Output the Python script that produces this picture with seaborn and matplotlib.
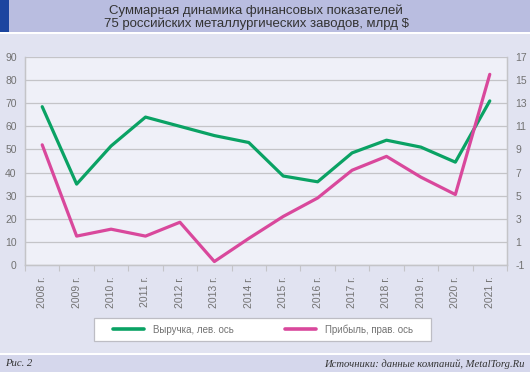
import matplotlib
matplotlib.use("Agg")
import matplotlib.pyplot as plt
import seaborn as sns
import pandas as pd
from matplotlib.patches import Rectangle
from matplotlib.lines import Line2D

years = ["2008 г.", "2009 г.", "2010 г.", "2011 г.", "2012 г.", "2013 г.", "2014 г.",
         "2015 г.", "2016 г.", "2017 г.", "2018 г.", "2019 г.", "2020 г.", "2021 г."]
revenue = [68.5, 35.0, 51.5, 64.0, 60.0, 56.0, 53.0, 38.5, 36.0, 48.5, 54.0, 51.0, 44.5, 71.0]
profit = [9.4, 1.5, 2.1, 1.5, 2.7, -0.7, 1.3, 3.2, 4.8, 7.2, 8.4, 6.6, 5.1, 15.5]
left_ticks = [0, 10, 20, 30, 40, 50, 60, 70, 80, 90]
right_ticks = [-1, 1, 3, 5, 7, 9, 11, 13, 15, 17]

title = "Суммарная динамика финансовых показателей\n75 российских металлургических заводов, млрд $"
leg_rev = "Выручка, лев. ось"
leg_prof = "Прибыль, прав. ось"
fig_label = "Рис. 2"
source = "Источники: данные компаний, MetalTorg.Ru"

GREEN = "#0aa264"
PINK = "#d9489c"
TXT = "#727272"
GRID = "#c4c4c8"

sns.set_theme(style="white")
plt.rcParams['font.family'] = ['Liberation Sans', 'DejaVu Sans']

W, H = 530, 372
fig = plt.figure(figsize=(W / 100, H / 100), dpi=100)
fig.patch.set_facecolor("white")

def rect(x0, y0, x1, y1, color, edge="none", z=-10):
    fig.patches.append(Rectangle((x0 / W, 1 - y1 / H), (x1 - x0) / W, (y1 - y0) / H,
                                 transform=fig.transFigure, facecolor=color,
                                 edgecolor=edge, linewidth=0.9, zorder=z))

rect(0, 0, W, 32, "#b9bde0")
rect(0, 0, 9, 32, "#1c45a0")
rect(0, 34, W, 353, "#e1e3f1")
rect(0, 355, W, H, "#d5d7ec")
rect(94, 318, 431, 341, "white", edge="#bdbdc4", z=-5)

fig.text(256 / W, 1 - 17 / H, title, ha="center", va="center", fontsize=9.5,
         color="#333333", linespacing=1.05)
fig.text(5 / W, 1 - 364 / H, fig_label, ha="left", va="center", fontsize=7.7,
         family=['Liberation Serif'], style="italic", color="#333333")
fig.text(525 / W, 1 - 364 / H, source, ha="right", va="center", fontsize=7.7,
         family=['Liberation Serif'], style="italic", color="#333333")

L, R, T, B = 25, 507, 57, 265
ax = fig.add_axes([L / W, 1 - B / H, (R - L) / W, (B - T) / H])
ax.set_facecolor("#eff0f8")
ax2 = ax.twinx()

x = list(range(len(years)))
df = pd.DataFrame({"x": x, "revenue": revenue, "profit": profit})

sns.lineplot(data=df, x="x", y="revenue", ax=ax, color=GREEN, linewidth=2.3, zorder=3)
sns.lineplot(data=df, x="x", y="profit", ax=ax2, color=PINK, linewidth=2.3, zorder=3)

ax.set_xlim(-0.5, len(years) - 0.5)
ax.set_ylim(0, 90)
ax2.set_ylim(-1, 17)
ax.set_yticks(left_ticks)
ax2.set_yticks(right_ticks)
ax.set_yticklabels([str(v) for v in left_ticks])
ax2.set_yticklabels([str(v) for v in right_ticks])
ax.set_xticks(x)
ax.set_xticklabels(years, rotation=90)
ax.set_xticks([i - 0.5 for i in range(len(years) + 1)], minor=True)
ax.tick_params(axis="x", which="major", length=0, pad=8, labelsize=7.5, labelcolor=TXT)
ax.tick_params(axis="x", which="minor", length=4, width=0.8, color=GRID, bottom=True)
ax.tick_params(axis="y", length=0, pad=6, labelsize=7.5, labelcolor=TXT)
ax2.tick_params(axis="y", length=0, pad=6, labelsize=7.5, labelcolor=TXT)
ax.set_xlabel("")
ax.set_ylabel("")
ax2.set_ylabel("")

ax.grid(axis="y", color=GRID, linewidth=0.9)
ax.set_axisbelow(True)
for a in (ax, ax2):
    for s in ["left", "right", "bottom"]:
        a.spines[s].set_visible(True)
        a.spines[s].set_color(GRID)
        a.spines[s].set_linewidth(0.9)
    a.spines["top"].set_visible(False)

handles = [Line2D([], [], color=GREEN, linewidth=2.6),
           Line2D([], [], color=PINK, linewidth=2.6)]
leg = fig.legend(handles, [leg_rev, leg_prof], ncol=2, loc="center",
                 bbox_to_anchor=((116 + 410) / 2 / W, 1 - 329.5 / H),
                 frameon=False, fontsize=7, handlelength=3.2,
                 columnspacing=5.3, handletextpad=0.95, borderpad=0.3,
                 labelcolor=TXT)

fig.savefig("out.png", dpi=100)
